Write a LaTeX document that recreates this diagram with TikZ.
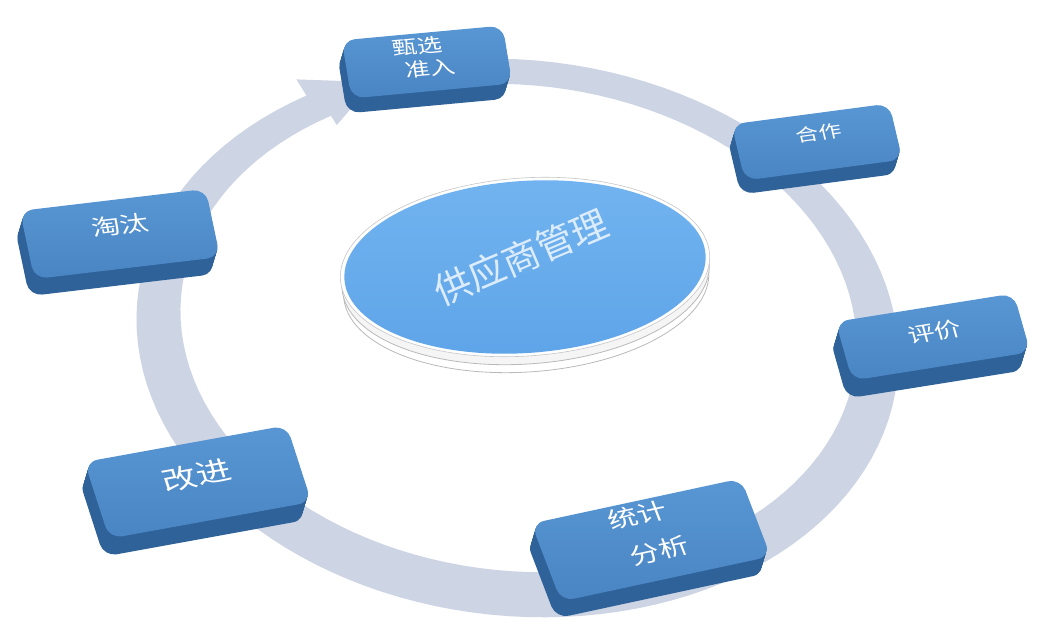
\documentclass[tikz,border=0pt]{standalone}
\usepackage{fontspec}
\newfontfamily\cjk{Noto Sans CJK SC}
\usetikzlibrary{shapes.geometric}
\definecolor{ringfill}{HTML}{CDD4E4}
\definecolor{tileTop}{HTML}{5896D4}
\definecolor{tileBot}{HTML}{4A85C3}
\definecolor{tileSide}{HTML}{2F6299}
\definecolor{discTop}{HTML}{72B4F0}
\definecolor{discBot}{HTML}{5EA4E8}
\definecolor{discText}{HTML}{DCECFB}
\tikzset{
  tileface/.style={rectangle, rounded corners=13pt, top color=tileTop, bottom color=tileBot, draw=none, transform shape, inner sep=0pt},
  tileslab/.style={fill=tileSide, rounded corners=13pt},
  tiletext/.style={text=white, transform shape, inner sep=0pt},
  rimline/.style={draw=gray!55, line width=0.8pt},
}
% #1 name, #2 cx, #3 cy, #4 angle, #5 width, #6 height, #7 depth, #8 text nodes
\newcommand\tile[8]{%
  \foreach \dd in {1,...,#7}{%
    \begin{scope}[shift={(#2-0.3*\dd,#3-\dd)}, yscale=0.75, rotate=#4]
      \fill[tileslab] (-#5/2,-#6/2) rectangle (#5/2,#6/2);
    \end{scope}}
  \begin{scope}[shift={(#2,#3)}, yscale=0.75, rotate=#4]
    \node[tileface, minimum width=#5pt, minimum height=#6pt] (#1) at (0,0) {};
    #8
  \end{scope}}
\begin{document}
\begin{tikzpicture}[x=1pt,y=1pt]
\useasboundingbox (0,0) rectangle (1039,627);
\fill[white] (0,0) rectangle (1039,627);
% cycle ring with arrow head
\begin{scope}[shift={(518,294)}, rotate=-6]
  \fill[ringfill]
    plot[domain=100:-232, samples=120, variable=\t] ({382*cos(\t)}, {-5+278*sin(\t)})
    -- ({401*cos(128)}, {-5+297*sin(128)})
    -- ({362*cos(118)}, {4+261*sin(118)})
    -- ({328*cos(128)}, {5+232*sin(128)})
    -- plot[domain=-232:100, samples=120, variable=\t] ({339*cos(\t)}, {5+243*sin(\t)})
    -- cycle;
\end{scope}
% central disc
\begin{scope}[shift={(525,360)}, rotate=4]
  \fill[white] (0,-17) ellipse [x radius=183, y radius=88];
  \draw[rimline] (0,-17) ellipse [x radius=183, y radius=88];
  \fill[gray!8] (0,-9) ellipse [x radius=184, y radius=88];
  \draw[rimline] (0,-9) ellipse [x radius=184, y radius=88];
  \fill[white] (0,0) ellipse [x radius=185, y radius=89];
  \draw[draw=gray!45, line width=0.6pt] (0,0) ellipse [x radius=185, y radius=89];
  \shade[top color=discTop, bottom color=discBot] (0,0) ellipse [x radius=181, y radius=86];
\end{scope}
\node[font=\cjk\fontsize{37}{37}\selectfont, text=discText, rotate=23, inner sep=0pt] (hub) at (521,370) {供应商管理};
% tiles
\tile{t1}{427}{565}{7}{162}{78}{15}{%
  \node[tiletext, font=\cjk\fontsize{25}{25}\selectfont] (t1a) at (-7,22) {甄选};
  \node[tiletext, font=\cjk\fontsize{25}{25}\selectfont] (t1b) at (2,-9) {准入};}
\tile{t2}{817}{485}{10}{160}{76}{14}{%
  \node[tiletext, font=\cjk\fontsize{23}{23}\selectfont] (t2a) at (4,12) {合作};}
\tile{t3}{933}{290}{12}{182}{80}{18}{%
  \node[tiletext, font=\cjk\fontsize{27}{27}\selectfont] (t3a) at (3,6) {评价};}
\tile{t4}{651}{87}{16}{218}{108}{17}{%
  \node[tiletext, font=\cjk\fontsize{30}{30}\selectfont] (t4a) at (-4,36) {统计};
  \node[tiletext, font=\cjk\fontsize{30}{30}\selectfont] (t4b) at (4,-16) {分析};}
\tile{t5}{198}{145}{13.6}{208}{105}{18}{%
  \node[tiletext, font=\cjk\fontsize{35}{35}\selectfont] (t5a) at (1,9) {改进};}
\tile{t6}{120}{393}{9}{188}{92}{17}{%
  \node[tiletext, font=\cjk\fontsize{29}{29}\selectfont] (t6a) at (2,12) {淘汰};}
\end{tikzpicture}
\end{document}
